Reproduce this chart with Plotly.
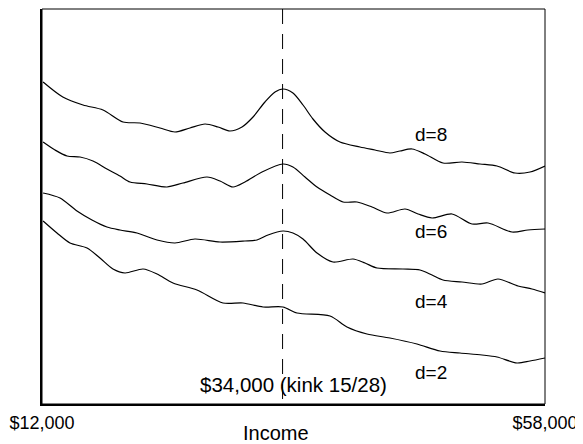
import plotly.graph_objects as go

# Income in $ thousands, curve heights in arbitrary units
inc_d8 = [12.1, 13.9, 15.75, 17.58, 19.41, 20.96, 22.79, 24.16, 25.53, 26.91, 28.10, 29.19, 30.29,
          31.30, 32.39, 33.31, 34.04, 34.95, 35.87, 36.78, 37.88, 39.25, 41.08, 42.45, 43.82, 44.74,
          45.84, 47.03, 48.67, 50.41, 52.06, 53.61, 55.26, 56.63, 58.0]
val_d8 = [322, 307, 299, 294, 282, 281, 276, 272, 276, 280, 277, 273, 277,
          287, 302, 312, 315, 311, 299, 285, 272, 262, 257, 254, 251, 253,
          255, 250, 241, 242, 240, 238, 231, 232, 238]

inc_d6 = [12.1, 13.19, 14.29, 15.48, 16.66, 17.94, 19.13, 20.05, 21.60, 23.43, 24.89, 27.09, 28.28,
          29.47, 30.56, 32.12, 34.04, 34.95, 36.05, 37.15, 38.34, 39.53, 40.81, 42.18, 43.55, 45.20,
          46.39, 47.67, 49.49, 51.32, 52.79, 54.98, 56.44, 58.0]
val_d6 = [262, 254, 248, 247, 243, 235, 228, 222, 220, 217, 221, 227, 223,
          217, 222, 232, 240, 237, 227, 217, 209, 202, 202, 197, 191, 195,
          190, 186, 190, 180, 181, 172, 174, 175]

inc_d4 = [12.1, 13.65, 15.20, 16.57, 17.94, 19.13, 20.69, 22.52, 24.16, 25.99, 28.28, 30.56, 31.66,
          32.67, 34.04, 34.95, 35.87, 37.15, 38.61, 40.44, 41.54, 42.64, 45.01, 46.57, 47.67, 48.67,
          50.41, 52.24, 53.70, 55.53, 56.81, 58.0]
val_d4 = [211, 206, 193, 184, 177, 174, 171, 164, 161, 165, 162, 163, 164,
          169, 173, 171, 165, 151, 142, 145, 141, 136, 135, 134, 129, 124,
          122, 120, 125, 118, 115, 111]

inc_d2 = [12.1, 13.37, 14.56, 16.12, 17.30, 18.49, 19.59, 21.24, 22.52, 23.98, 26.17, 28.55, 30.38,
          32.21, 34.04, 35.32, 38.34, 39.89, 41.72, 43.82, 46.29, 48.40, 50.23, 52.24, 53.61, 55.44,
          56.63, 58.0]
val_d2 = [183, 171, 161, 156, 146, 135, 131, 135, 130, 121, 114, 101, 101,
          97, 97, 91, 88, 77, 70, 66, 60, 53, 51, 49, 47, 41, 43, 46]

series_names = ["d=8", "d=6", "d=4", "d=2"]
series_x = [inc_d8, inc_d6, inc_d4, inc_d2]
series_y = [val_d8, val_d6, val_d4, val_d2]
label_x = [47.6, 47.6, 47.6, 47.6]
label_y = [270, 173, 103, 32]

kink_income = 34.0
kink_label = "$34,000 (kink 15/28)"
kink_label_pos = (35.0, 20)

tick_vals = [12, 58]
tick_text = ["$12,000", "$58,000"]
x_title = "Income"

FONT = "Liberation Sans, Arial, sans-serif"

fig = go.Figure()
for name, xs, ys in zip(series_names, series_x, series_y):
    fig.add_trace(go.Scatter(x=[v * 1000 for v in xs], y=ys, mode="lines", name=name,
                             line=dict(color="black", width=1.2, shape="spline", smoothing=0.8),
                             hoverinfo="skip"))

for name, lx, ly in zip(series_names, label_x, label_y):
    fig.add_annotation(x=lx * 1000, y=ly, text=name, showarrow=False,
                       font=dict(family=FONT, size=19, color="black"),
                       xanchor="center", yanchor="middle")

fig.add_annotation(x=kink_label_pos[0] * 1000, y=kink_label_pos[1], text=kink_label,
                   showarrow=False, font=dict(family=FONT, size=20.5, color="black"),
                   xanchor="center", yanchor="middle")

fig.add_annotation(xref="paper", yref="paper", x=0.465, y=-0.073, text=x_title,
                   showarrow=False, font=dict(family=FONT, size=20, color="black"),
                   xanchor="center", yanchor="middle")

fig.add_shape(type="line", xref="x", yref="paper", x0=kink_income * 1000, x1=kink_income * 1000,
              y0=1, y1=0, line=dict(color="black", width=1, dash="15px,10px"))

fig.add_shape(type="rect", xref="paper", yref="paper", x0=0, x1=1, y0=0, y1=1,
              line=dict(color="black", width=1))

fig.update_xaxes(range=[12000, 58000], tickvals=[v * 1000 for v in tick_vals], ticktext=tick_text,
                 showgrid=False, zeroline=False, showline=True, linewidth=2, linecolor="black",
                 ticks="", ticklabelstandoff=1,
                 tickfont=dict(family=FONT, size=18, color="black"))
fig.update_yaxes(range=[0, 395], showticklabels=False, showgrid=False, zeroline=False,
                 showline=True, linewidth=2, linecolor="black", ticks="")

# page body has an 8px default margin, so the figure is shifted by 8px; compensate
fig.update_layout(width=575, height=436, margin=dict(l=34, r=38, t=1, b=40),
                  paper_bgcolor="white", plot_bgcolor="white", showlegend=False,
                  font=dict(family=FONT, color="black"))

fig.write_html("out.html")
